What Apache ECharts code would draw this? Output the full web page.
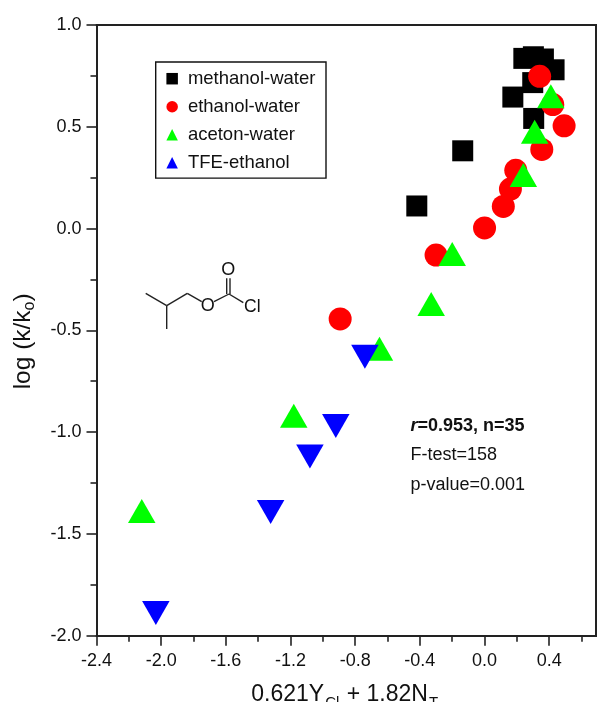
<!DOCTYPE html>
<html><head><meta charset="utf-8">
<style>html,body{margin:0;padding:0;background:#fff;overflow:hidden}#c{width:597px;height:702px}</style>
<script src="https://cdn.jsdelivr.net/npm/echarts@6/dist/echarts.min.js"></script>
</head><body><div id="c"></div>
<script>
const methanolWater=[[0.243,0.836],[0.302,0.844],[0.364,0.833],[0.43,0.78],[0.298,0.717],[0.175,0.646],[0.304,0.541],[-0.135,0.382],[-0.419,0.111]];
const ethanolWater=[[0.341,0.748],[0.422,0.609],[0.492,0.505],[0.354,0.389],[0.193,0.286],[0.16,0.194],[0.116,0.109],[0.0,0.003],[-0.3,-0.13],[-0.893,-0.444]];
const acetonWater=[[0.41,0.65],[0.31,0.475],[0.24,0.263],[-0.2,-0.125],[-0.33,-0.37],[-0.65,-0.59],[-1.18,-0.92],[-2.12,-1.387]];
const tfeEthanol=[[-0.74,-0.63],[-0.92,-0.97],[-1.08,-1.12],[-1.323,-1.392],[-2.033,-1.888]];
const FF='"Liberation Sans",Arial,sans-serif';
const INK='#111';
const chart=echarts.init(document.getElementById('c'),null,{renderer:'canvas'});
const line=(x1,y1,x2,y2)=>({type:'line',shape:{x1,y1,x2,y2},style:{stroke:'#222',lineWidth:1.4},silent:true});
const txt=(x,y,text,size,extra)=>({type:'text',x,y,style:Object.assign({text,fill:INK,font:size+'px '+FF,textVerticalAlign:'middle'},extra||{}),silent:true});
chart.setOption({
 animation:false,
 backgroundColor:'#fff',
 grid:{left:96.5,top:25,width:517.4,height:610.7,show:false,outerBoundsMode:'none'},
 xAxis:[{type:'value',min:-2.4,max:0.8,interval:0.4,position:'bottom',
  axisLine:{onZero:false,lineStyle:{color:'#222',width:2}},
  axisTick:{length:10,lineStyle:{color:'#222',width:1.6}},
  minorTick:{show:true,splitNumber:2,length:6,lineStyle:{color:'#222',width:1.6}},
  splitLine:{show:false},
  axisLabel:{color:INK,fontFamily:FF,fontSize:18,margin:16,showMaxLabel:false,formatter:v=>v.toFixed(1).replace('-0.0','0.0')},
  name:'{a|0.621Y}{s|Cl}{a| + 1.82N}{s|T}',nameLocation:'middle',nameGap:42,
  nameTextStyle:{padding:[0,20,0,0],rich:{a:{fontFamily:FF,fontSize:23,color:INK},s:{fontFamily:FF,fontSize:15,color:INK,verticalAlign:'bottom',padding:[18,1,0,1]}}}
 },{type:'value',min:-2.4,max:0.8,position:'top',axisLine:{onZero:false,lineStyle:{color:'#222',width:2}},axisTick:{show:false},axisLabel:{show:false},splitLine:{show:false}}],
 yAxis:[{type:'value',min:-2,max:1,interval:0.5,position:'left',
  axisLine:{onZero:false,lineStyle:{color:'#222',width:2}},
  axisTick:{length:10,lineStyle:{color:'#222',width:1.6}},
  minorTick:{show:true,splitNumber:2,length:6,lineStyle:{color:'#222',width:1.6}},
  splitLine:{show:false},
  axisLabel:{color:INK,fontFamily:FF,fontSize:18,margin:15,formatter:v=>v.toFixed(1)},
  name:'{a|log (k/k}{s|o}{a|)}',nameLocation:'middle',nameGap:59,
  nameTextStyle:{padding:[0,22,0,0],rich:{a:{fontFamily:FF,fontSize:24.5,color:INK},s:{fontFamily:FF,fontSize:16,color:INK,verticalAlign:'bottom',padding:[12,0,0,0]}}}
 },{type:'value',min:-2,max:1,position:'right',offset:-17.9,axisLine:{onZero:false,lineStyle:{color:'#222',width:2}},axisTick:{show:false},axisLabel:{show:false},splitLine:{show:false}}],
 legend:{left:155.7,top:62,orient:'vertical',align:'left',itemWidth:11.5,itemHeight:11.5,itemGap:8,padding:[6.7,10.6,5.4,10.7],
  borderColor:'#111',borderWidth:1.4,backgroundColor:'#fff',
  textStyle:{fontFamily:FF,fontSize:18.5,lineHeight:20,color:INK,padding:[0,0,0,5]},
  data:[{name:'methanol-water',icon:'rect'},{name:'ethanol-water',icon:'circle'},{name:'aceton-water',icon:'triangle'},{name:'TFE-ethanol',icon:'triangle',symbolRotate:180}]},
 series:[
  {name:'methanol-water',type:'scatter',data:methanolWater,symbol:'rect',symbolSize:21,itemStyle:{color:'#000',opacity:1}},
  {name:'ethanol-water',type:'scatter',data:ethanolWater,symbol:'circle',symbolSize:23,itemStyle:{color:'#ff0000',opacity:1}},
  {name:'aceton-water',type:'scatter',data:acetonWater,symbol:'triangle',symbolSize:[27.5,24],itemStyle:{color:'#00ff00',opacity:1}},
  {name:'TFE-ethanol',type:'scatter',data:tfeEthanol,symbol:'triangle',symbolRotate:180,symbolSize:[27.5,24],itemStyle:{color:'#0000ff',opacity:1}}
 ],
 graphic:[
  line(145.7,293.3,166.7,305.7),line(166.7,305.7,166.7,329),line(166.7,305.7,187.3,293.3),line(187.3,293.3,201.7,301.7),
  line(214,301.7,229,294),line(226.7,294,226.7,278.3),line(230,294,230,278.3),line(229,294,243.3,302.7),
  txt(207.7,306,'O',18,{textAlign:'center'}),txt(228.3,270,'O',18,{textAlign:'center'}),txt(244,306.7,'Cl',17.5),
  {type:'text',x:410.5,y:426.5,silent:true,style:{text:'{i|r}{b|=0.953, n=35}',textVerticalAlign:'middle',rich:{i:{font:'italic bold 18px '+FF,fill:INK},b:{font:'bold 18px '+FF,fill:INK}}}},
  txt(410.5,455,'F-test=158',18),txt(410.5,485,'p-value=0.001',18)
 ]
});
</script></body></html>
